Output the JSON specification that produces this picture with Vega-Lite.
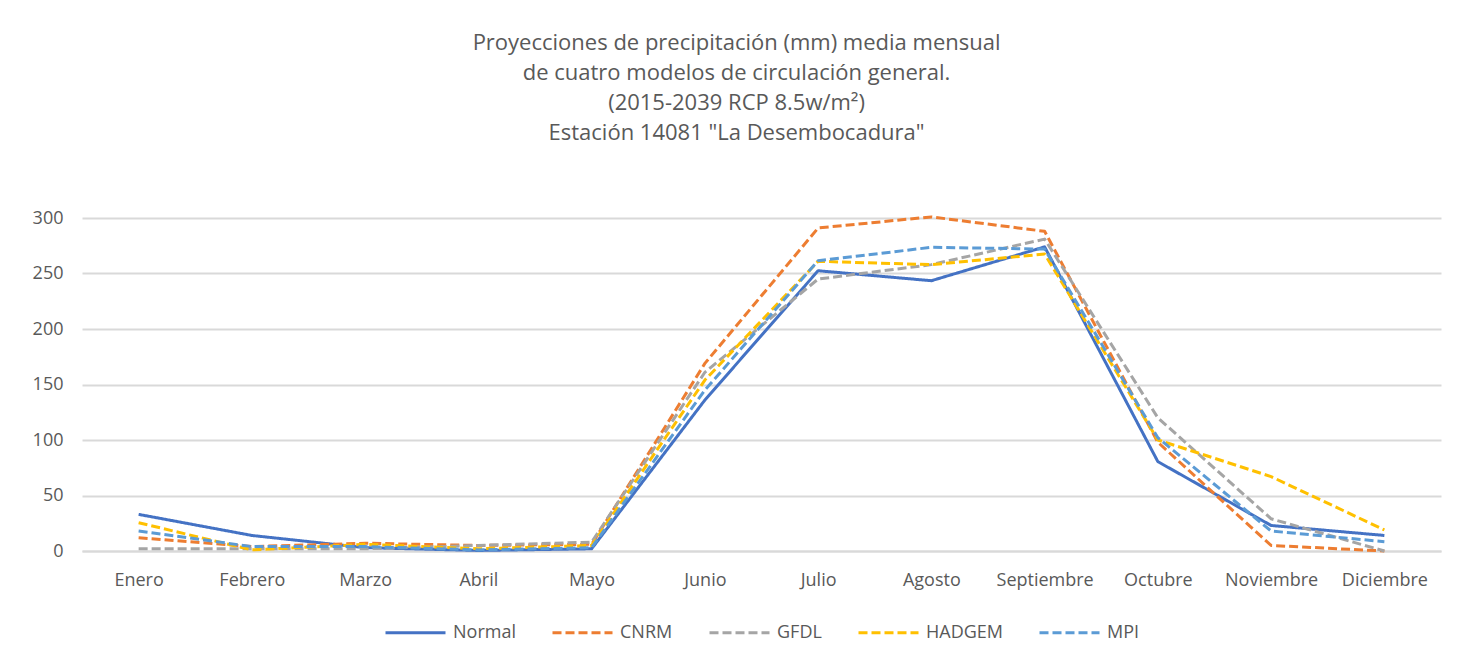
{
  "$schema": "https://vega.github.io/schema/vega-lite/v6.json",
  "autosize": {"type": "none"},
  "width": 1359,
  "height": 333,
  "padding": {"left": 82, "top": 218, "right": 16, "bottom": 110},
  "background": "white",
  "title": {
    "text": ["Proyecciones de precipitación (mm) media mensual", "de cuatro modelos de circulación general.", "(2015-2039 RCP 8.5w/m²)", "Estación 14081  \"La Desembocadura\""],
    "font": "Open Sans",
    "fontSize": 22,
    "fontWeight": "normal",
    "color": "#595959",
    "lineHeight": 30,
    "offset": 64,
    "anchor": "middle",
    "frame": "bounds"
  },
  "data": {
    "values": [
      {"mes": "Enero", "Normal": 33, "CNRM": 12, "GFDL": 2, "HADGEM": 25.5, "MPI": 18},
      {"mes": "Febrero", "Normal": 14, "CNRM": 4, "GFDL": 2, "HADGEM": 1, "MPI": 4},
      {"mes": "Marzo", "Normal": 3, "CNRM": 7, "GFDL": 2, "HADGEM": 6, "MPI": 4},
      {"mes": "Abril", "Normal": 0.5, "CNRM": 5, "GFDL": 5, "HADGEM": 2, "MPI": 1},
      {"mes": "Mayo", "Normal": 2, "CNRM": 6, "GFDL": 8, "HADGEM": 5, "MPI": 3},
      {"mes": "Junio", "Normal": 136, "CNRM": 169, "GFDL": 161, "HADGEM": 154, "MPI": 145},
      {"mes": "Julio", "Normal": 252.5, "CNRM": 291, "GFDL": 245, "HADGEM": 261, "MPI": 261.5},
      {"mes": "Agosto", "Normal": 243.5, "CNRM": 301, "GFDL": 258, "HADGEM": 258, "MPI": 273.6},
      {"mes": "Septiembre", "Normal": 274, "CNRM": 288, "GFDL": 281, "HADGEM": 267.5, "MPI": 272},
      {"mes": "Octubre", "Normal": 80.5, "CNRM": 98, "GFDL": 120, "HADGEM": 100, "MPI": 102},
      {"mes": "Noviembre", "Normal": 23, "CNRM": 5, "GFDL": 29, "HADGEM": 67, "MPI": 18},
      {"mes": "Diciembre", "Normal": 14, "CNRM": 0, "GFDL": 0, "HADGEM": 19, "MPI": 8.4}
    ]
  },
  "transform": [
    {"fold": ["Normal", "CNRM", "GFDL", "HADGEM", "MPI"], "as": ["serie", "valor"]}
  ],
  "mark": {"type": "line", "strokeWidth": 3, "strokeCap": "butt", "strokeJoin": "round"},
  "encoding": {
    "x": {
      "field": "mes",
      "type": "ordinal",
      "sort": ["Enero", "Febrero", "Marzo", "Abril", "Mayo", "Junio", "Julio", "Agosto", "Septiembre", "Octubre", "Noviembre", "Diciembre"],
      "scale": {"type": "point", "padding": 0.5},
      "axis": {
        "title": null,
        "labelAngle": 0,
        "ticks": false,
        "domain": true,
        "domainColor": "#d9d9d9",
        "domainWidth": 2,
        "labelFont": "Open Sans",
        "labelFontSize": 18,
        "labelColor": "#595959",
        "labelPadding": 20,
        "grid": false
      }
    },
    "y": {
      "field": "valor",
      "type": "quantitative",
      "scale": {"domain": [0, 300], "nice": false},
      "axis": {
        "title": null,
        "values": [0, 50, 100, 150, 200, 250, 300],
        "ticks": false,
        "domain": false,
        "grid": true,
        "gridColor": "#d9d9d9",
        "gridWidth": 2,
        "labelFont": "Open Sans",
        "labelFontSize": 18,
        "labelColor": "#595959",
        "labelPadding": 19
      }
    },
    "color": {
      "field": "serie",
      "type": "nominal",
      "sort": ["Normal", "CNRM", "GFDL", "HADGEM", "MPI"],
      "scale": {
        "domain": ["Normal", "CNRM", "GFDL", "HADGEM", "MPI"],
        "range": ["#4472C4", "#ED7D31", "#A5A5A5", "#FFC000", "#5B9BD5"]
      },
      "legend": {
        "title": null,
        "orient": "bottom",
        "direction": "horizontal",
        "symbolType": "stroke",
        "symbolSize": 3600,
        "symbolStrokeWidth": 3,
        "labelFont": "Open Sans",
        "labelFontSize": 18,
        "labelColor": "#595959",
        "labelOffset": 6,
        "columnPadding": 30,
        "offset": 12
      }
    },
    "strokeDash": {
      "field": "serie",
      "type": "nominal",
      "sort": ["Normal", "CNRM", "GFDL", "HADGEM", "MPI"],
      "scale": {
        "domain": ["Normal", "CNRM", "GFDL", "HADGEM", "MPI"],
        "range": [[1, 0], [9, 4], [9, 4], [9, 4], [9, 4]]
      },
      "legend": {
        "title": null,
        "orient": "bottom",
        "direction": "horizontal",
        "symbolType": "stroke",
        "symbolSize": 3600,
        "symbolStrokeWidth": 3,
        "labelFont": "Open Sans",
        "labelFontSize": 18,
        "labelColor": "#595959",
        "labelOffset": 6,
        "columnPadding": 30,
        "offset": 12
      }
    }
  },
  "config": {
    "view": {"stroke": null},
    "legend": {"layout": {"bottom": {"anchor": "middle"}}}
  }
}
